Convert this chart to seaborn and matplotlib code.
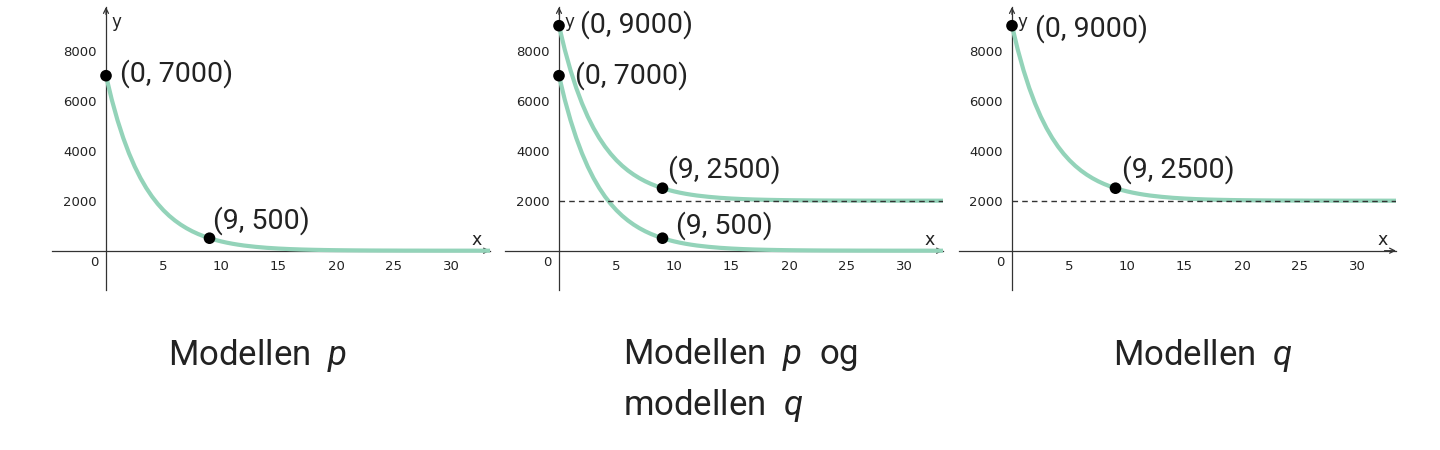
import pandas as pd
import seaborn as sns
import matplotlib.pyplot as plt

sns.set_style('white')
plt.rcParams['font.family'] = ['Roboto', 'DejaVu Sans']
plt.rcParams['mathtext.fontset'] = 'custom'
plt.rcParams['mathtext.rm'] = 'Roboto'
plt.rcParams['mathtext.it'] = 'Roboto:italic'

# curve values (half steps where the curve is steep)
x_vals = [0, 0.5, 1, 1.5, 2, 2.5, 3, 3.5, 4, 4.5, 5, 5.5, 6, 6.5, 7, 7.5, 8, 8.5,
          9, 9.5, 10, 10.5, 11, 11.5, 12, 13, 14, 15, 16, 17, 18, 19, 20,
          21, 22, 23, 24, 25, 26, 27, 28, 29, 30, 31, 32, 33, 34]
p_vals = [7000, 6045, 5221, 4509, 3894, 3363, 2904, 2508, 2166, 1871, 1615, 1395,
          1205, 1041, 899, 776, 670, 579,
          500, 432, 373, 322, 278, 240, 207, 155, 115, 86, 64, 48, 36, 27, 20,
          15, 11, 8, 6, 5, 3, 3, 2, 1, 1, 1, 1, 0, 0]
q_vals = [9000, 8045, 7221, 6509, 5894, 5363, 4904, 4508, 4166, 3871, 3615, 3395,
          3205, 3041, 2899, 2776, 2670, 2579,
          2500, 2432, 2373, 2322, 2278, 2240, 2207, 2155, 2115, 2086, 2064, 2048, 2036, 2027, 2020,
          2015, 2011, 2008, 2006, 2005, 2003, 2003, 2002, 2001, 2001, 2001, 2001, 2000, 2000]
asymptote_q = 2000

p_points_x = [0, 9]
p_points_y = [7000, 500]
q_points_x = [0, 9]
q_points_y = [9000, 2500]

x_ticks = [5, 10, 15, 20, 25, 30]
y_ticks = [2000, 4000, 6000, 8000]

titles = ['Modellen  $p$', 'Modellen  $p$  og\nmodellen  $q$', 'Modellen  $q$']

CURVE = '#93d3b9'
AXIS = '#333333'
TXT = '#222222'

df_p = pd.DataFrame({'x': x_vals, 'y': p_vals})
df_q = pd.DataFrame({'x': x_vals, 'y': q_vals})

fig = plt.figure(figsize=(14.4, 4.5), dpi=100)
W, H = 1440, 450

# pixel boxes: left, right, y-axis pixel column
panels = [(52, 490, 106), (505, 943, 559), (959, 1396, 1012)]
top, bottom, xaxis_px = 7, 290, 250.7
yscale = 0.025  # px per unit
xscale = 11.5


def setup_axes(box):
    left, right, yaxis_px = box
    ax = fig.add_axes([left / W, (H - bottom) / H, (right - left) / W, (bottom - top) / H])
    ax.set_xlim(-(yaxis_px - left) / xscale, (right - yaxis_px) / xscale)
    ax.set_ylim(-(bottom - xaxis_px) / yscale, (xaxis_px - top) / yscale)
    for s in ['top', 'right']:
        ax.spines[s].set_visible(False)
    for s in ['left', 'bottom']:
        ax.spines[s].set_position(('data', 0))
        ax.spines[s].set_color(AXIS)
        ax.spines[s].set_linewidth(0.9)
    ax.set_xticks(x_ticks)
    ax.set_yticks(y_ticks)
    ax.tick_params(axis='both', direction='out', length=3.5, width=0.8, color=AXIS,
                   labelsize=9.5, labelcolor=TXT, pad=3)
    for lab in ax.get_xticklabels() + ax.get_yticklabels():
        lab.set_fontfamily('DejaVu Sans')
    x0, x1 = ax.get_xlim()
    y0, y1 = ax.get_ylim()
    ax.annotate('', xy=(x1, 0), xytext=(x1 - 1, 0),
                arrowprops=dict(arrowstyle='->', color=AXIS, lw=0.9,
                                shrinkA=0, shrinkB=0, mutation_scale=9))
    ax.annotate('', xy=(0, y1), xytext=(0, y1 - 300),
                arrowprops=dict(arrowstyle='->', color=AXIS, lw=0.9,
                                shrinkA=0, shrinkB=0, mutation_scale=9))
    ax.text(x1 - 1.2, 60, 'x', fontsize=12.5, family='DejaVu Sans', color=TXT,
            ha='center', va='bottom')
    ax.text(0.45, y1 - 250, 'y', fontsize=12, family='DejaVu Sans', color=TXT,
            ha='left', va='top')
    ax.annotate('0', xy=(0, 0), xytext=(-12, -12), textcoords='offset pixels',
                fontsize=9.5, family='DejaVu Sans', color=TXT, ha='center', va='center')
    return ax


def label(ax, x, y, dx, dy):
    ax.annotate(f'({x}, {y})', xy=(x, y), xytext=(dx, dy), textcoords='offset pixels',
                fontsize=20.5, color=TXT, ha='left', va='center', zorder=6)


def curve(ax, df):
    sns.lineplot(data=df, x='x', y='y', ax=ax, color=CURVE, linewidth=3, zorder=3)


def points(ax, xs, ys):
    sns.scatterplot(x=xs, y=ys, ax=ax, color='black', s=70, edgecolor='none', zorder=5)


def asymptote(ax, y):
    x0, x1 = ax.get_xlim()
    ax.axhline(y, xmin=(0 - x0) / (x1 - x0), color=AXIS, lw=1, ls=(0, (4, 3)), zorder=4)


# panel 1: model p
ax1 = setup_axes(panels[0])
curve(ax1, df_p)
points(ax1, p_points_x, p_points_y)
label(ax1, 0, 7000, 14, 2)
label(ax1, 9, 500, 4, 18)

# panel 2: both models
ax2 = setup_axes(panels[1])
curve(ax2, df_p)
curve(ax2, df_q)
asymptote(ax2, asymptote_q)
points(ax2, p_points_x + q_points_x, p_points_y + q_points_y)
label(ax2, 0, 9000, 21, 1)
label(ax2, 0, 7000, 16, 0)
label(ax2, 9, 2500, 5, 19)
label(ax2, 9, 500, 13, 13)

# panel 3: model q
ax3 = setup_axes(panels[2])
curve(ax3, df_q)
asymptote(ax3, asymptote_q)
points(ax3, q_points_x, q_points_y)
label(ax3, 0, 9000, 23, -3)
label(ax3, 9, 2500, 7, 19)

for ax in [ax1, ax2, ax3]:
    ax.set_xlabel('')
    ax.set_ylabel('')
    if ax.get_legend():
        ax.get_legend().remove()

fig.text(168 / W, 1 - 355 / H, titles[0], fontsize=25, color=TXT, ha='left', va='center')
fig.text(623 / W, 1 - 380 / H, titles[1], fontsize=25, color=TXT, ha='left', va='center',
         linespacing=1.5)
fig.text(1113 / W, 1 - 355 / H, titles[2], fontsize=25, color=TXT, ha='left', va='center')

fig.savefig('out.png', dpi=100)
